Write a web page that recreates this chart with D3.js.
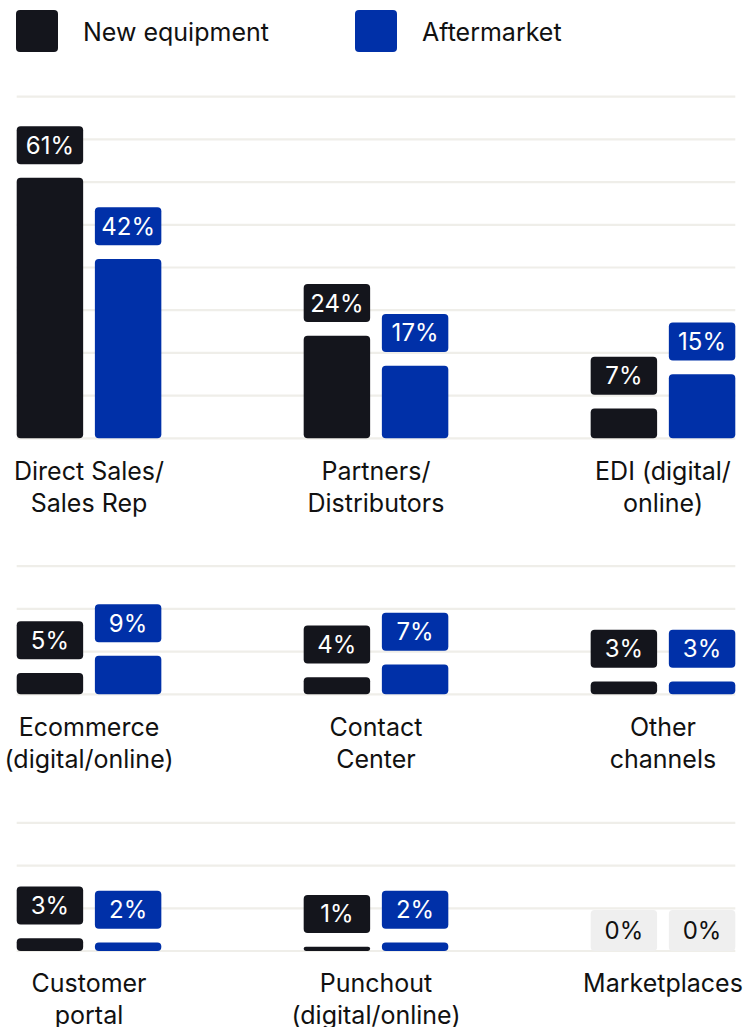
<!DOCTYPE html>
<html>
<head>
<meta charset="utf-8">
<script src="https://cdn.jsdelivr.net/npm/d3@7"></script>
<style>
  html, body { margin: 0; padding: 0; background: #ffffff; }
  svg { display: block; font-family: Inter, "Noto Sans", sans-serif; }
</style>
</head>
<body>
<svg id="chart" width="745" height="1027"></svg>
<script>
// Sales channels, laid out three per row
const categories = [
  ["Direct Sales/", "Sales Rep"],
  ["Partners/", "Distributors"],
  ["EDI (digital/", "online)"],
  ["Ecommerce", "(digital/online)"],
  ["Contact", "Center"],
  ["Other", "channels"],
  ["Customer", "portal"],
  ["Punchout", "(digital/online)"],
  ["Marketplaces"]
];
const seriesNames = ["New equipment", "Aftermarket"];
const newEquipment = [61, 24, 7, 5, 4, 3, 3, 1, 0];
const aftermarket  = [42, 17, 15, 9, 7, 3, 2, 2, 0];
// Gridline ticks per row (percent)
const rowTicks = [
  [0, 10, 20, 30, 40, 50, 60, 70, 80],
  [0, 10, 20, 30],
  [0, 10, 20, 30]
];

const colors = { "New equipment": "#14151c", "Aftermarket": "#0030a8" };
const gridColor = "#efeee9";
const textColor = "#111111";

const svg = d3.select("#chart");
const left = 16.7, right = 735.3;
const unit = 4.27;               // px per percentage point
const baselines = [438.3, 694.3, 951];

// Legend
const legend = svg.append("g");
seriesNames.forEach((name, i) => {
  const lx = [16, 355][i];
  legend.append("rect").attr("x", lx).attr("y", 10).attr("width", 42).attr("height", 42)
    .attr("rx", 4).attr("fill", colors[name]);
  legend.append("text").attr("x", lx + 67).attr("y", 32).attr("dy", "0.35em")
    .attr("font-size", 25).attr("fill", textColor).text(name);
});

const colScale = d3.scaleBand().domain([0, 1, 2]).range([left, right]).paddingInner(0.496);
const barScale = d3.scaleBand().domain(seriesNames).range([0, colScale.bandwidth()]).paddingInner(0.15);

rowTicks.forEach((ticks, r) => {
  const base = baselines[r];
  const maxV = d3.max(ticks);
  const y = d3.scaleLinear().domain([0, maxV]).range([base, base - maxV * unit]);
  const g = svg.append("g");

  // Horizontal gridlines across the full width
  g.selectAll("line.grid").data(ticks).join("line")
    .attr("class", "grid")
    .attr("x1", left).attr("x2", right)
    .attr("y1", d => y(d)).attr("y2", d => y(d))
    .attr("stroke", gridColor).attr("stroke-width", 2.2);

  for (let c = 0; c < 3; c++) {
    const idx = r * 3 + c;
    const values = [newEquipment[idx], aftermarket[idx]];
    const px = colScale(c);
    const panel = g.append("g").attr("transform", `translate(${px},0)`);

    seriesNames.forEach((name, s) => {
      const v = values[s];
      const bx = barScale(name);
      const bw = barScale.bandwidth();
      const top = y(v);
      const h = base - top;
      if (h > 0) {
        panel.append("rect")
          .attr("x", bx).attr("y", top).attr("width", bw).attr("height", h)
          .attr("rx", Math.min(4, h / 2)).attr("fill", colors[name]);
      }
      // Value tag above each bar
      const boxH = v === 0 ? 41 : 38;
      const boxY = v === 0 ? base - boxH : top - 13.7 - boxH;
      panel.append("rect")
        .attr("x", bx).attr("y", boxY).attr("width", bw).attr("height", boxH)
        .attr("rx", 4).attr("fill", v === 0 ? "#efefef" : colors[name]);
      panel.append("text")
        .attr("x", bx + bw / 2).attr("y", boxY + boxH / 2).attr("dy", "0.35em")
        .attr("text-anchor", "middle").attr("font-size", 24)
        .attr("fill", v === 0 ? textColor : "#ffffff")
        .text(v + "%");
    });

    // Category label below the panel
    const label = panel.append("text")
      .attr("text-anchor", "middle").attr("font-size", 25).attr("fill", textColor);
    categories[idx].forEach((line, k) => {
      label.append("tspan")
        .attr("x", colScale.bandwidth() / 2)
        .attr("y", base + 32.5 + k * 32)
        .attr("dy", "0.35em")
        .text(line);
    });
  }
});
</script>
</body>
</html>
